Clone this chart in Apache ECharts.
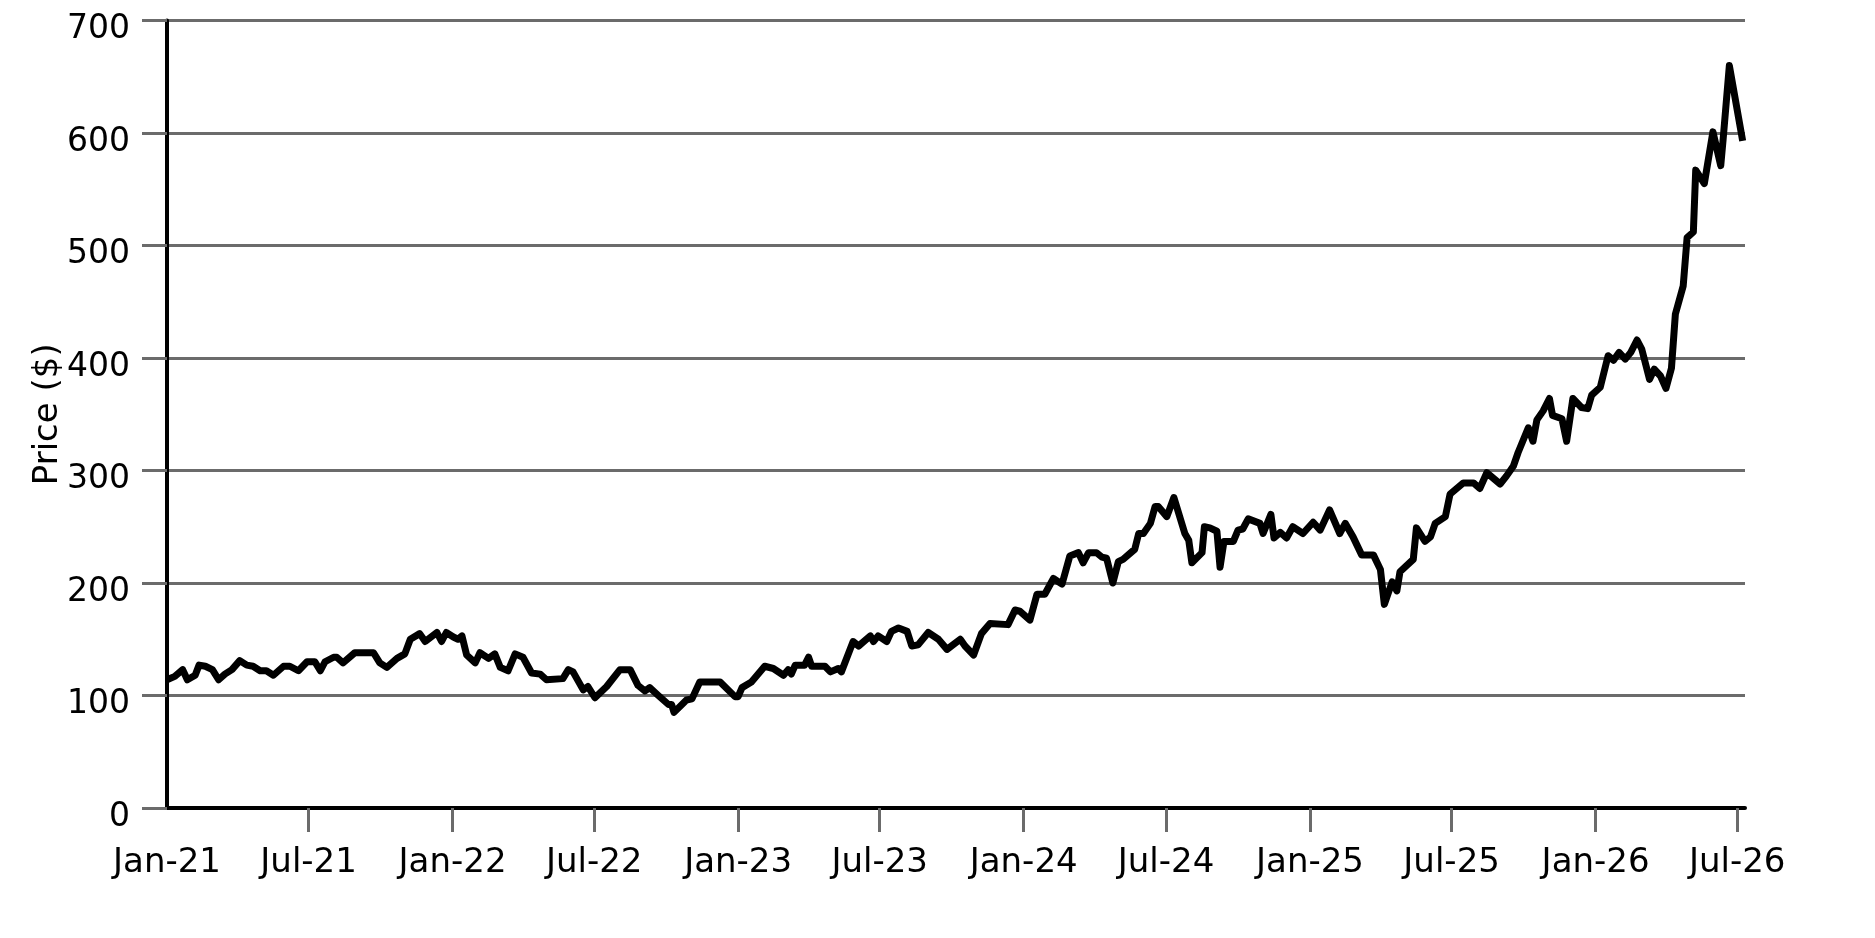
<!DOCTYPE html>
<html>
<head>
<meta charset="utf-8">
<title>Price</title>
<script src="https://cdn.jsdelivr.net/npm/echarts@6.0.0/dist/echarts.min.js"></script>
<style>
  html, body { margin: 0; padding: 0; background: #fff; }
  #main { width: 1875px; height: 938px; }
</style>
</head>
<body>
<div id="main"></div>
<script>
// price readings (date, $)
const dates = [
  '2021-01-01','2021-01-11','2021-01-21','2021-01-27','2021-02-06','2021-02-11','2021-02-19','2021-02-28',
  '2021-03-08','2021-03-16','2021-03-25','2021-04-04','2021-04-13','2021-04-21','2021-04-30','2021-05-08',
  '2021-05-17','2021-05-30','2021-06-07','2021-06-18','2021-06-29','2021-07-09','2021-07-16','2021-07-22',
  '2021-08-02','2021-08-06','2021-08-14','2021-08-29','2021-09-22','2021-09-30','2021-10-09','2021-10-22',
  '2021-11-01','2021-11-08','2021-11-20','2021-11-27','2021-12-12','2021-12-18','2021-12-24','2022-01-02',
  '2022-01-08','2022-01-13','2022-01-19','2022-01-30','2022-02-05','2022-02-16','2022-02-24','2022-03-03',
  '2022-03-13','2022-03-22','2022-04-01','2022-04-12','2022-04-23','2022-05-01','2022-05-22','2022-05-29',
  '2022-06-04','2022-06-17','2022-06-23','2022-07-02','2022-07-17','2022-08-03','2022-08-16','2022-08-26',
  '2022-09-04','2022-09-10','2022-09-21','2022-10-04','2022-10-08','2022-10-11','2022-10-27','2022-11-03',
  '2022-11-13','2022-12-09','2022-12-28','2023-01-01','2023-01-06','2023-01-18','2023-02-04','2023-02-15',
  '2023-02-28','2023-03-06','2023-03-10','2023-03-15','2023-03-27','2023-04-01','2023-04-05','2023-04-22',
  '2023-04-29','2023-05-09','2023-05-13','2023-05-28','2023-06-04','2023-06-19','2023-06-23','2023-06-29',
  '2023-07-10','2023-07-16','2023-07-25','2023-08-05','2023-08-11','2023-08-19','2023-09-01','2023-09-14',
  '2023-09-25','2023-10-12','2023-10-18','2023-10-29','2023-11-08','2023-11-19','2023-12-12','2023-12-21',
  '2023-12-27','2024-01-09','2024-01-18','2024-01-28','2024-02-08','2024-02-19','2024-02-29','2024-03-11',
  '2024-03-17','2024-03-24','2024-04-03','2024-04-10','2024-04-16','2024-04-24','2024-05-01','2024-05-07',
  '2024-05-22','2024-05-27','2024-06-02','2024-06-11','2024-06-17','2024-06-21','2024-07-02','2024-07-11',
  '2024-07-25','2024-07-30','2024-08-03','2024-08-16','2024-08-19','2024-08-26','2024-09-04','2024-09-08',
  '2024-09-13','2024-09-25','2024-10-01','2024-10-07','2024-10-14','2024-10-29','2024-11-02','2024-11-12',
  '2024-11-16','2024-11-24','2024-12-02','2024-12-10','2024-12-23','2025-01-05','2025-01-14','2025-01-26',
  '2025-02-08','2025-02-15','2025-02-25','2025-03-08','2025-03-23','2025-04-01','2025-04-06','2025-04-16',
  '2025-04-22','2025-04-26','2025-05-13','2025-05-17','2025-05-28','2025-06-04','2025-06-10','2025-06-23',
  '2025-06-29','2025-07-16','2025-07-29','2025-08-06','2025-08-15','2025-09-01','2025-09-09','2025-09-18',
  '2025-09-24','2025-10-07','2025-10-13','2025-10-18','2025-10-26','2025-11-03','2025-11-07','2025-11-19',
  '2025-11-25','2025-12-03','2025-12-14','2025-12-22','2025-12-27','2026-01-07','2026-01-17','2026-01-24',
  '2026-01-31','2026-02-08','2026-02-15','2026-02-23','2026-03-01','2026-03-11','2026-03-17','2026-03-25',
  '2026-04-01','2026-04-08','2026-04-13','2026-04-23','2026-04-28','2026-05-06','2026-05-09','2026-05-20',
  '2026-05-31','2026-06-10','2026-06-13','2026-06-21','2026-07-08'
];
const prices = [
  114,117,123,114,118,127,126,123,
  114,119,123,131,127,126,122,122,
  118,126,126,122,130,130,122,130,
  134,134,129,138,138,129,125,133,
  137,150,155,148,156,148,156,152,
  150,153,136,129,138,133,137,125,
  122,137,134,120,119,114,115,123,
  121,105,108,98,108,123,123,109,
  104,107,100,92,92,85,96,97,
  112,112,99,99,107,112,126,124,
  118,123,119,127,127,134,126,126,
  121,124,121,148,144,153,148,153,
  148,157,160,157,144,145,156,150,
  141,150,144,136,155,164,163,176,
  175,167,190,190,204,199,224,227,
  218,227,227,223,222,200,219,221,
  230,244,244,253,268,268,259,276,
  244,238,218,227,250,249,246,214,
  237,237,247,248,257,253,244,261,
  240,245,240,250,244,254,247,265,
  244,253,241,225,225,212,181,201,
  193,210,221,249,237,241,253,259,
  279,289,289,284,298,288,295,304,
  316,338,326,345,353,364,349,346,
  326,364,356,355,367,374,402,398,
  405,399,405,416,408,381,390,384,
  373,391,439,464,507,512,567,555,
  601,571,594,660,593
];

// axis
const xStart = '2021-01-01';
const xEnd = '2026-07-11';
const tickDates = ['2021-01-01','2021-07-01','2022-01-01','2022-07-01','2023-01-01','2023-07-01',
  '2024-01-01','2024-07-01','2025-01-01','2025-07-01','2026-01-01','2026-07-01'];
const tickLabels = ['Jan-21','Jul-21','Jan-22','Jul-22','Jan-23','Jul-23',
  'Jan-24','Jul-24','Jan-25','Jul-25','Jan-26','Jul-26'];

const toTime = d => +echarts.time.parse(d);
const tickTimes = tickDates.map(toTime);
const labelOf = {};
tickTimes.forEach((t, i) => { labelOf[t] = tickLabels[i]; });

const seriesData = dates.map((d, i) => [toTime(d), prices[i]]);

const chart = echarts.init(document.getElementById('main'));
const font = 'DejaVu Sans';

chart.setOption({
  animation: false,
  backgroundColor: '#fff',
  grid: { left: 167, right: 130, top: 20.5, bottom: 130 },
  xAxis: {
    type: 'value',
    min: toTime(xStart),
    max: toTime(xEnd),
    axisLine: { lineStyle: { color: '#000', width: 4 } },
    axisTick: {
      show: true,
      customValues: tickTimes.slice(1),
      length: 24,
      lineStyle: { color: '#6b6b6b', width: 3 }
    },
    axisLabel: {
      customValues: tickTimes,
      formatter: v => labelOf[v] || '',
      fontFamily: font,
      fontSize: 34,
      color: '#000',
      margin: 38
    },
    splitLine: { show: false }
  },
  yAxis: {
    type: 'value',
    min: 0,
    max: 700,
    interval: 100,
    name: 'Price ($)',
    nameLocation: 'middle',
    nameGap: 102,
    nameMoveOverlap: false,
    nameTextStyle: { fontFamily: font, fontSize: 34, color: '#000' },
    axisLine: { show: true, lineStyle: { color: '#000', width: 4 } },
    axisTick: { show: true, length: 25, lineStyle: { color: '#6b6b6b', width: 3 } },
    axisLabel: {
      fontFamily: font,
      fontSize: 33,
      color: '#000',
      margin: 37,
      verticalAlign: 'top',
      lineHeight: 18
    },
    splitLine: { lineStyle: { color: '#6b6b6b', width: 3 } }
  },
  series: [{
    type: 'line',
    data: seriesData,
    showSymbol: false,
    lineStyle: { color: '#000', width: 7, join: 'round' }
  }]
});
</script>
</body>
</html>
